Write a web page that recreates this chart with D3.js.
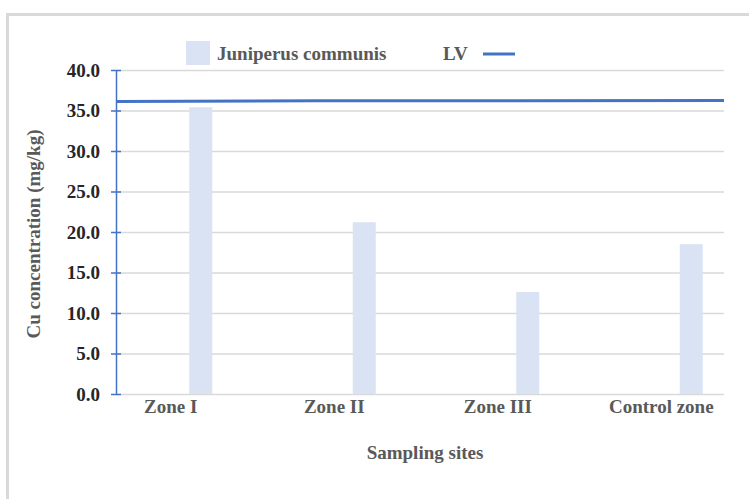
<!DOCTYPE html>
<html><head><meta charset="utf-8">
<script src="https://cdn.jsdelivr.net/npm/d3@7"></script>
<style>html,body{margin:0;padding:0;background:#fff;}svg{display:block;}</style>
</head><body>
<svg id="c" width="749" height="499"></svg>
<script>
const categories = ["Zone I", "Zone II", "Zone III", "Control zone"];
const juniperusValues = [35.4, 21.2, 12.6, 18.5];
const lvValues = [36.1, 36.2, 36.2, 36.25];
const yTicks = [0, 5, 10, 15, 20, 25, 30, 35, 40];
const seriesNames = ["Juniperus communis", "LV"];

const svg = d3.select("#c");
const font = "Liberation Serif, Times New Roman, serif";
const barColor = "#dae3f3", lineColor = "#4472c4", gridColor = "#d9d9d9";
const fs = 19;

// outer border
svg.append("rect").attr("x", 7.5).attr("y", 14.5).attr("width", 760).attr("height", 500)
  .attr("fill", "none").attr("stroke", "#d9d9d9").attr("stroke-width", 3);

const plotL = 116, plotR = 724, plotT = 70, plotB = 394;
const y = d3.scaleLinear().domain([0, 40]).range([plotB, plotT]);
const x = d3.scaleBand().domain(categories).range([89, 743]).paddingInner(0).paddingOuter(0);
const barW = 23, barOff = 18.5;

// gridlines
svg.append("g").selectAll("line").data(yTicks).join("line")
  .attr("x1", plotL).attr("x2", plotR).attr("y1", d => y(d) + 0.5).attr("y2", d => y(d) + 0.5)
  .attr("stroke", gridColor).attr("stroke-width", 1.3);

// bars
svg.append("g").selectAll("rect").data(categories).join("rect")
  .attr("x", d => x(d) + x.bandwidth() / 2 + barOff)
  .attr("width", barW)
  .attr("y", (d, i) => y(juniperusValues[i]))
  .attr("height", (d, i) => y(0) - y(juniperusValues[i]))
  .attr("fill", barColor);

// LV line spanning plot
const lvX = d3.scaleLinear().domain([0, categories.length - 1]).range([plotL, plotR]);
svg.append("path").datum(lvValues)
  .attr("d", d3.line().x((d, i) => lvX(i)).y(d => y(d)))
  .attr("fill", "none").attr("stroke", lineColor).attr("stroke-width", 3);

// y axis
const yAxis = d3.axisLeft(y).tickValues(yTicks).tickFormat(d3.format(".1f")).tickSize(0).tickPadding(16);
const ya = svg.append("g").attr("transform", `translate(${plotL},0)`).call(yAxis);
ya.select(".domain").attr("stroke", lineColor).attr("stroke-width", 1.5);
ya.selectAll("text").attr("font-family", font).attr("font-weight", "bold")
  .attr("font-size", fs).attr("fill", "#262626");
// cross ticks
svg.append("g").selectAll("line").data(yTicks).join("line")
  .attr("x1", plotL - 5).attr("x2", plotL + 5)
  .attr("y1", d => y(d) + 0.5).attr("y2", d => y(d) + 0.5)
  .attr("stroke", lineColor).attr("stroke-width", 1.5);

// x labels
const xAxis = d3.axisBottom(x).tickSize(0).tickPadding(6);
const xa = svg.append("g").attr("transform", `translate(0,${plotB})`).call(xAxis);
xa.select(".domain").remove();
xa.selectAll("text").attr("font-family", font).attr("font-weight", "bold")
  .attr("font-size", fs).attr("fill", "#595959");

// axis titles
svg.append("text").attr("x", 425).attr("y", 459).attr("text-anchor", "middle")
  .attr("font-family", font).attr("font-weight", "bold").attr("font-size", fs).attr("fill", "#595959")
  .text("Sampling sites");
svg.append("text").attr("transform", "translate(40,234) rotate(-90)").attr("text-anchor", "middle")
  .attr("font-family", font).attr("font-weight", "bold").attr("font-size", fs).attr("fill", "#595959")
  .text("Cu concentration (mg/kg)");

// legend
const lg = svg.append("g");
lg.append("rect").attr("x", 186).attr("y", 41).attr("width", 24).attr("height", 24).attr("fill", barColor);
lg.append("text").attr("x", 217).attr("y", 60).attr("font-family", font).attr("font-weight", "bold")
  .attr("font-size", fs).attr("fill", "#595959").text(seriesNames[0]);
lg.append("text").attr("x", 443).attr("y", 60).attr("font-family", font).attr("font-weight", "bold")
  .attr("font-size", fs).attr("fill", "#595959").text(seriesNames[1]);
lg.append("line").attr("x1", 483).attr("x2", 515).attr("y1", 54).attr("y2", 54)
  .attr("stroke", lineColor).attr("stroke-width", 3);
</script>
</body></html>
